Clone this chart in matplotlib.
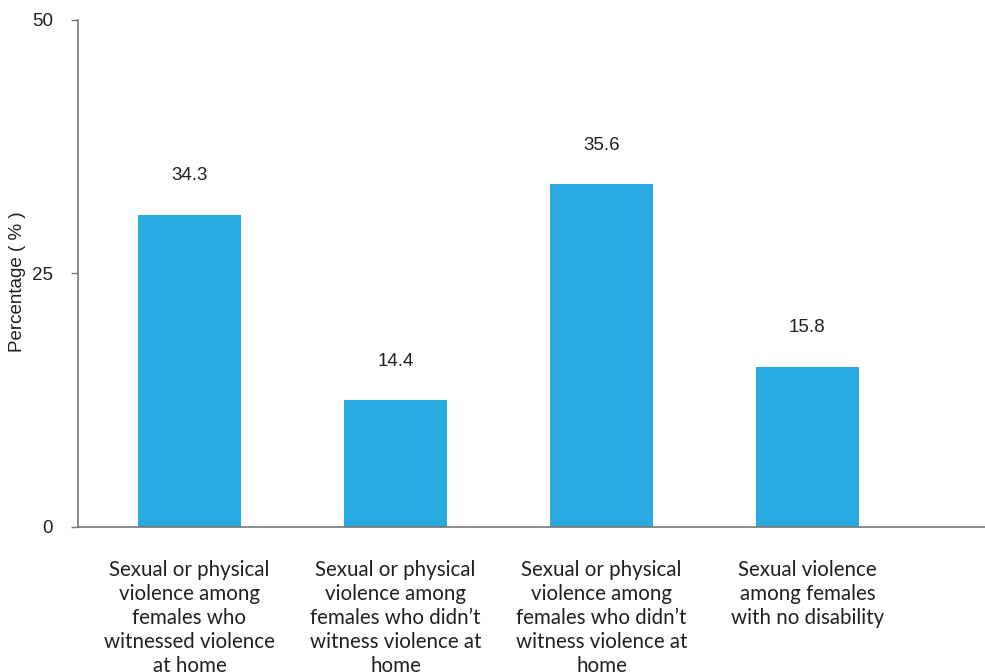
import matplotlib.pyplot as plt
import numpy as np

categories = [
    "Sexual or physical\nviolence among\nfemales who\nwitnessed violence\nat home",
    "Sexual or physical\nviolence among\nfemales who didn\u2019t\nwitness violence at\nhome",
    "Sexual or physical\nviolence among\nfemales who didn\u2019t\nwitness violence at\nhome",
    "Sexual violence\namong females\nwith no disability",
]
bar_values = [30.8, 12.5, 33.8, 15.8]
value_labels = ["34.3", "14.4", "35.6", "15.8"]
y_ticks = [0, 25, 50]

bar_color = "#29ABE2"
text_color = "#231F20"
spine_color = "#777777"

fig = plt.figure(figsize=(9.85, 6.72), dpi=100)
ax = fig.add_axes([0.0792, 0.2158, 0.9208, 0.7545])

x = np.arange(len(categories))
bars = ax.bar(x, bar_values, width=0.5, color=bar_color, zorder=2)

for rect, lab in zip(bars, value_labels):
    ax.annotate(lab, (rect.get_x() + rect.get_width() / 2, rect.get_height()),
                xytext=(0, 28), textcoords="offset points",
                ha="center", va="center", fontsize=13.5,
                family="Liberation Sans", color=text_color)

ax.set_xlim(-0.541, 3.862)
ax.set_ylim(0, 50)
ax.set_yticks(y_ticks)
ax.set_yticklabels([str(t) for t in y_ticks], family="Liberation Sans",
                   fontsize=13.5, color=text_color)
ax.tick_params(axis="y", length=5, width=1, color=spine_color, pad=13)

ax.set_xticks(x)
ax.set_xticklabels(categories, family="Lato", fontsize=14.8, color=text_color,
                   linespacing=1.24)
ax.tick_params(axis="x", length=0, pad=24)

for side in ["top", "right"]:
    ax.spines[side].set_visible(False)
for side in ["left", "bottom"]:
    ax.spines[side].set_color(spine_color)
    ax.spines[side].set_linewidth(1.2)

ax.set_ylabel("Percentage ( % )", family="Liberation Sans", fontsize=13.5,
              color=text_color)
ax.yaxis.set_label_coords(-0.057, 0.483)

fig.savefig("out.png", dpi=100)
